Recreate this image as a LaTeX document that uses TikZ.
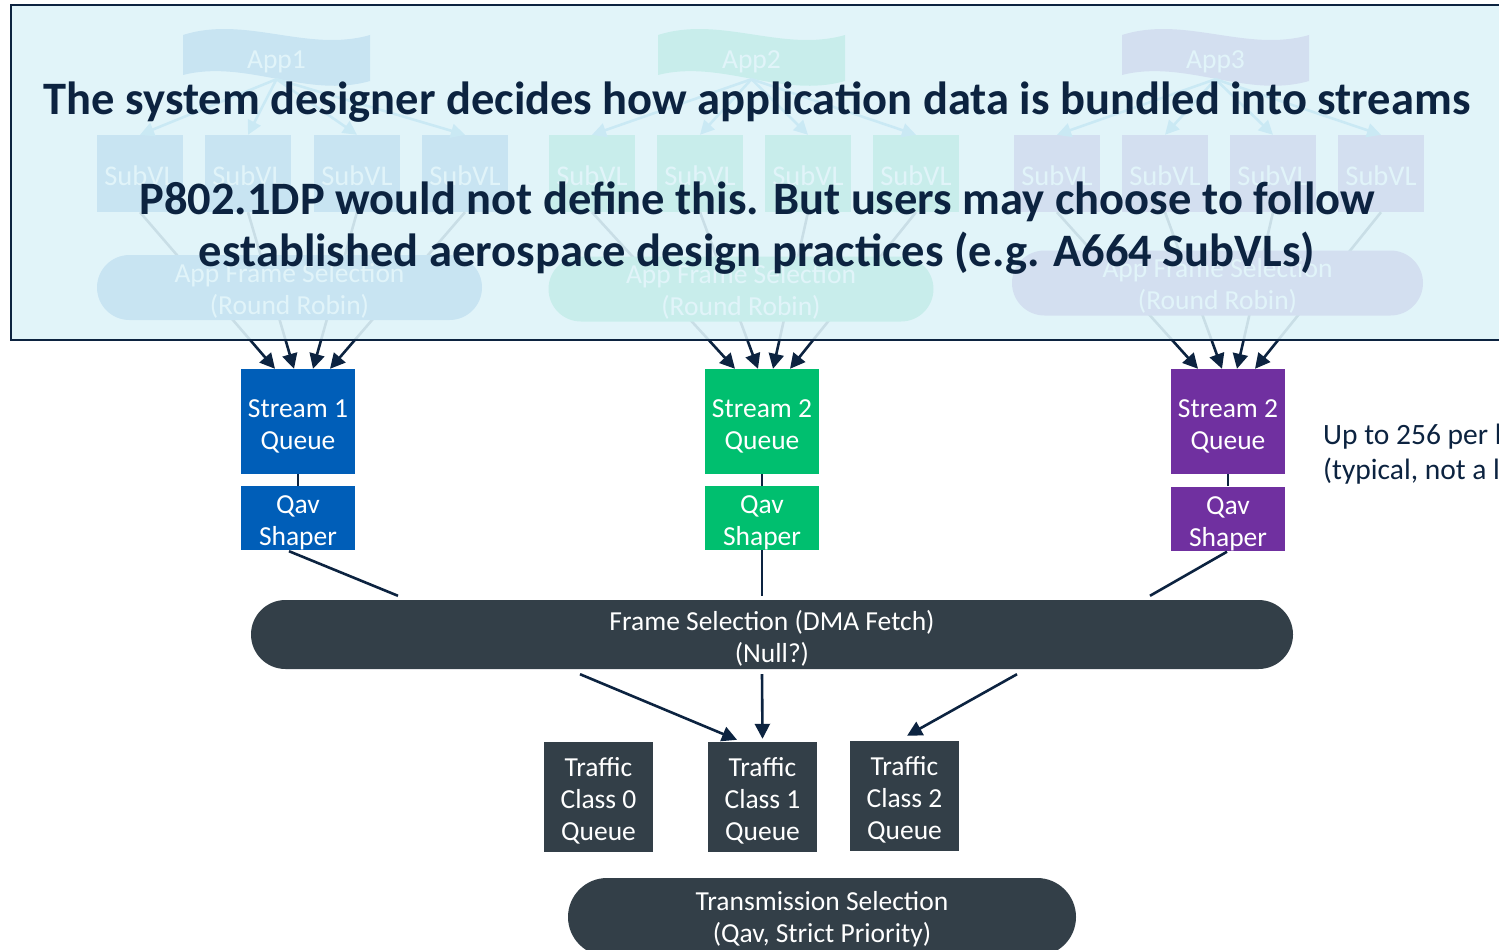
\documentclass[tikz,border=0pt]{standalone}
\usepackage{fontspec}
\setmainfont{Carlito}
\usetikzlibrary{arrows.meta,calc}
\definecolor{gblue}{HTML}{005EB8}
\definecolor{ggreen}{HTML}{00BF6F}
\definecolor{gpurple}{HTML}{7030A0}
\definecolor{slate}{HTML}{333F48}
\definecolor{navy}{HTML}{0C2340}
\definecolor{ovlcol}{HTML}{DEF3F9}
\definecolor{arrowblue}{HTML}{1A8FD0}
\newcommand\AppWave[2]{%
  \fill[#2] ({#1-93.5},35) .. controls ({#1-31},15) and ({#1+31},53) .. ({#1+93.5},35)
    -- ({#1+93.5},81) .. controls ({#1+31},99) and ({#1-31},59) .. ({#1-93.5},75) -- cycle;}
\tikzset{
  lbl/.style={font=\fontsize{27.5}{32}\selectfont, text=white, align=center, inner sep=0pt},
  sq/.style={rectangle, inner sep=0pt, minimum width=114pt, minimum height=105pt},
  qv/.style={rectangle, inner sep=0pt, minimum width=114pt, minimum height=64pt},
  tcbox/.style={rectangle, inner sep=0pt, fill=slate, minimum width=109pt, minimum height=110pt},
  pill/.style={rectangle, inner sep=0pt, fill=slate},
  subvl/.style={rectangle, inner sep=0pt, minimum width=86pt, minimum height=77pt},
  afs/.style={rectangle, inner sep=0pt, minimum height=65pt, rounded corners=32.5pt},
  appn/.style={rectangle, inner sep=0pt, minimum width=187pt, minimum height=44pt},
  conn/.style={draw=navy, line width=2.6pt},
  arr/.style={conn, -{Triangle[length=15pt,width=15pt]}},
  farr/.style={draw=arrowblue, line width=2.6pt, -{Triangle[length=14pt,width=14pt]}},
  titletxt/.style={font=\fontsize{46.5}{51}\selectfont\bfseries, text=navy, inner sep=0pt, anchor=base},
}
\begin{document}
\begin{tikzpicture}[x=1pt,y=-1pt]
\useasboundingbox (0,0) rectangle (1499,950);
\fill[white] (0,0) rectangle (1499,950);

% ---------- stream queues and shapers ----------
\node[sq, fill=gblue, label={[lbl, yshift=-5pt]center:{Stream 1\\Queue}}] (s1) at (298,421.5) {};
\node[qv, fill=gblue, label={[lbl, yshift=-5pt]center:{Qav\\Shaper}}] (q1) at (298,518) {};
\node[sq, fill=ggreen, label={[lbl, yshift=-5pt]center:{Stream 2\\Queue}}] (s2) at (762,421.5) {};
\node[qv, fill=ggreen, label={[lbl, yshift=-5pt]center:{Qav\\Shaper}}] (q2) at (762,518) {};
\node[sq, fill=gpurple, label={[lbl, yshift=-5pt]center:{Stream 2\\Queue}}] (s3) at (1228,421.5) {};
\node[qv, fill=gpurple, label={[lbl, yshift=-5pt]center:{Qav\\Shaper}}] (q3) at (1228,518.5) {};
\draw[draw=navy, line width=2pt] (s1) -- (q1);
\draw[draw=navy, line width=2pt] (s2) -- (q2);
\draw[draw=navy, line width=2pt] (s3) -- (q3);

% ---------- faded application groups ----------
\foreach \i/\x in {1/140,2/248,3/357,4/465} {\node[subvl, fill=gblue, label={[lbl, font=\fontsize{28.5}{32}\selectfont, yshift=-2pt]center:SubVL}] (sva\i) at (\x,173.5) {};}
\foreach \i/\x in {1/592,2/700,3/808,4/916} {\node[subvl, fill=ggreen, label={[lbl, font=\fontsize{28.5}{32}\selectfont, yshift=-2pt]center:SubVL}] (svb\i) at (\x,173.5) {};}
\foreach \i/\x in {1/1057,2/1165,3/1273,4/1381} {\node[subvl, fill=gpurple, label={[lbl, font=\fontsize{28.5}{32}\selectfont, yshift=-2pt]center:SubVL}] (svc\i) at (\x,173.5) {};}

\draw[arr] (sva1.south) -- ($(s1.north)+(-23,0)$);
\draw[arr] (sva2.south) -- ($(s1.north)+(-4,0)$);
\draw[arr] (sva3.south) -- ($(s1.north)+(15,0)$);
\draw[arr] (sva4.south) -- ($(s1.north)+(32,0)$);
\draw[arr] (svb1.south) -- ($(s2.north)+(-27,0)$);
\draw[arr] (svb2.south) -- ($(s2.north)+(-4,0)$);
\draw[arr] (svb3.south) -- ($(s2.north)+(11,0)$);
\draw[arr] (svb4.south) -- ($(s2.north)+(28,0)$);
\draw[arr] (svc1.south) -- ($(s3.north)+(-30,0)$);
\draw[arr] (svc2.south) -- ($(s3.north)+(-6,0)$);
\draw[arr] (svc3.south) -- ($(s3.north)+(9,0)$);
\draw[arr] (svc4.south) -- ($(s3.north)+(27,0)$);

\node[afs, fill=gblue, minimum width=385pt, label={[lbl, yshift=-3pt]center:{App Frame Selection\\(Round Robin)}}] (afs1) at (289.5,287.5) {};
\node[afs, fill=ggreen, minimum width=385pt, label={[lbl, yshift=-3pt]center:{App Frame Selection\\(Round Robin)}}] (afs2) at (741,289) {};
\node[afs, fill=gpurple, minimum width=411pt, label={[lbl, yshift=-3pt]center:{App Frame Selection\\(Round Robin)}}] (afs3) at (1217.5,283) {};

\AppWave{276.5}{gblue}
\AppWave{751.5}{ggreen}
\AppWave{1215.5}{gpurple}
\node[appn, label={[lbl, yshift=-5pt]center:App1}] (app1) at (276.5,57) {};
\node[appn, label={[lbl, yshift=-5pt]center:App2}] (app2) at (751.5,57) {};
\node[appn, label={[lbl, yshift=-5pt]center:App3}] (app3) at (1215.5,57) {};
\foreach \i in {1,2,3,4} {\draw[farr] (app1.south) -- (sva\i.north);}
\foreach \i in {1,2,3,4} {\draw[farr] (app2.south) -- (svb\i.north);}
\foreach \i in {1,2,3,4} {\draw[farr] (app3.south) -- (svc\i.north);}

% ---------- overlay ----------
\node[rectangle, draw=navy, line width=2.6pt, fill=ovlcol, fill opacity=0.9, inner sep=0pt,
      minimum width=1509pt, minimum height=335pt] (ovl) at (765.5,172.5) {};
\node[titletxt] (t1) at (757,114) {The system designer decides how application data is bundled into streams};
\node[titletxt] (t2) at (757,214) {P802.1DP would not define this. But users may choose to follow};
\node[titletxt] (t3) at (757,266) {established aerospace design practices (e.g. A664 SubVLs)};

% ---------- lower part ----------
\node[pill, minimum width=1042pt, minimum height=69pt, rounded corners=34.5pt,
      label={[lbl, yshift=-4pt]center:{Frame Selection (DMA Fetch)\\(Null?)}}] (fs) at (772,634.5) {};
\draw[conn] ($(q1.south)+(-9,1)$) -- ($(fs.north)+(-374,-4)$);
\draw[conn] (q2.south) -- ($(fs.north)+(-10,-4)$);
\draw[conn] ($(q3.south)+(-1,1)$) -- ($(fs.north)+(378,-4)$);

\node[tcbox, label={[lbl, yshift=-4pt]center:{Traffic\\Class 0\\Queue}}] (tc0) at (598.5,797) {};
\node[tcbox, label={[lbl, yshift=-4pt]center:{Traffic\\Class 1\\Queue}}] (tc1) at (762.5,797) {};
\node[tcbox, label={[lbl, yshift=-4pt]center:{Traffic\\Class 2\\Queue}}] (tc2) at (904.5,796) {};
\draw[arr] ($(fs.south)+(-192,5)$) -- ($(tc1.north)+(-25.5,-2)$);
\draw[arr] ($(fs.south)+(-10,5)$) -- ($(tc1.north)+(0,-3)$);
\draw[arr] ($(fs.south)+(245,5)$) -- ($(tc2.north)+(2.5,-5)$);

\node[pill, minimum width=508pt, minimum height=78pt, rounded corners=39pt,
      label={[lbl, yshift=-2pt]center:{Transmission Selection\\(Qav, Strict Priority)}}] (ts) at (822,917) {};

\node[font=\fontsize{29.5}{35}\selectfont, text=navy, align=left, inner sep=0pt, anchor=west] (note) at (1323,454)
  {Up to 256 per link\\(typical, not a limit)};
\end{tikzpicture}
\end{document}
